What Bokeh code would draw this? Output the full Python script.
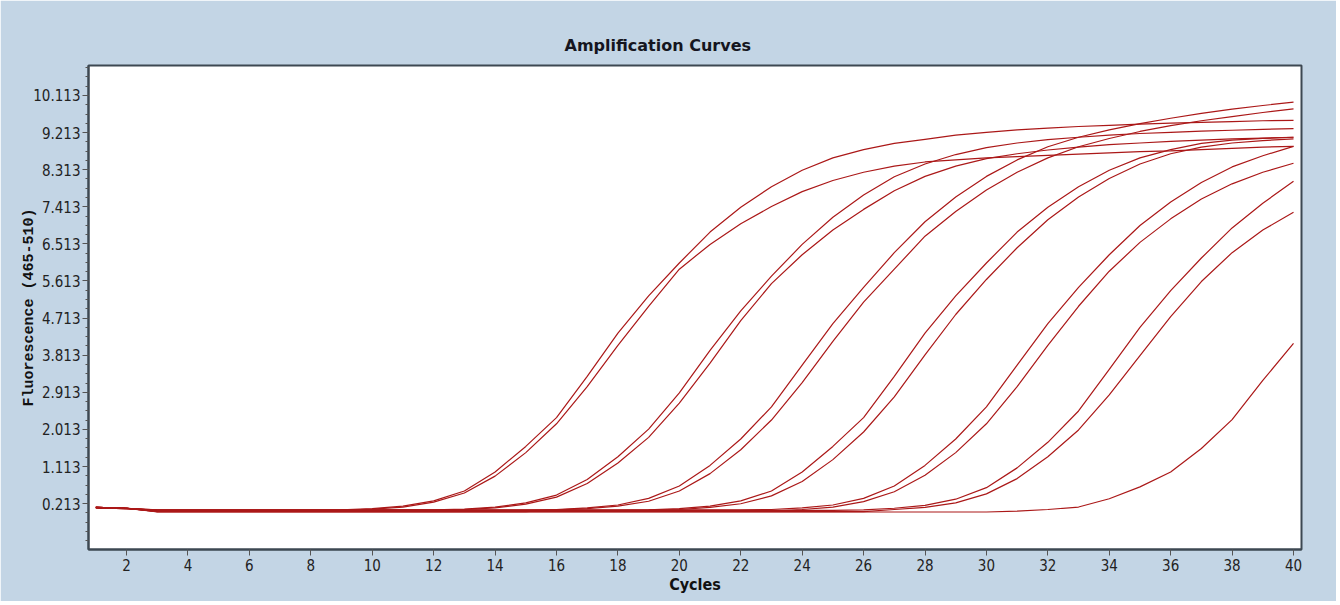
from bokeh.plotting import figure
from bokeh.models import FixedTicker, Range1d, PrintfTickFormatter
from bokeh.embed import file_html
from bokeh.resources import INLINE

cycles = [1, 2, 3, 4, 5, 6, 7, 8, 9, 10, 11, 12, 13, 14, 15, 16, 17, 18, 19, 20,
          21, 22, 23, 24, 25, 26, 27, 28, 29, 30, 31, 32, 33, 34, 35, 36, 37, 38, 39, 40]

curve_01 = [0.12, 0.10, 0.05, 0.05, 0.05, 0.05, 0.05, 0.05, 0.06, 0.09, 0.15, 0.28, 0.52, 0.98, 1.60, 2.30, 3.30, 4.35, 5.25, 6.05,
            6.80, 7.40, 7.90, 8.30, 8.60, 8.80, 8.95, 9.05, 9.15, 9.22, 9.28, 9.32, 9.36, 9.39, 9.42, 9.44, 9.46, 9.48, 9.50, 9.51]
curve_02 = [0.12, 0.10, 0.04, 0.04, 0.04, 0.04, 0.04, 0.04, 0.05, 0.08, 0.13, 0.25, 0.47, 0.88, 1.45, 2.15, 3.05, 4.05, 5.00, 5.90,
            6.50, 7.00, 7.42, 7.78, 8.05, 8.25, 8.40, 8.50, 8.55, 8.60, 8.63, 8.66, 8.69, 8.72, 8.75, 8.77, 8.80, 8.83, 8.86, 8.88]
curve_03 = [0.11, 0.09, 0.06, 0.06, 0.06, 0.06, 0.06, 0.06, 0.06, 0.06, 0.06, 0.06, 0.08, 0.13, 0.23, 0.42, 0.80, 1.35, 2.02, 2.90,
            3.93, 4.89, 5.73, 6.50, 7.16, 7.70, 8.14, 8.45, 8.68, 8.85, 8.96, 9.04, 9.10, 9.15, 9.19, 9.22, 9.25, 9.27, 9.29, 9.31]
curve_04 = [0.12, 0.10, 0.03, 0.03, 0.03, 0.03, 0.03, 0.03, 0.03, 0.03, 0.03, 0.03, 0.07, 0.11, 0.20, 0.37, 0.70, 1.20, 1.82, 2.65,
            3.62, 4.65, 5.55, 6.25, 6.85, 7.35, 7.80, 8.15, 8.40, 8.58, 8.70, 8.79, 8.86, 8.92, 8.96, 9.00, 9.03, 9.06, 9.08, 9.10]
curve_05 = [0.11, 0.09, 0.05, 0.05, 0.05, 0.05, 0.05, 0.05, 0.05, 0.05, 0.05, 0.05, 0.05, 0.05, 0.05, 0.07, 0.11, 0.18, 0.34, 0.64,
            1.14, 1.78, 2.56, 3.57, 4.58, 5.46, 6.30, 7.05, 7.65, 8.15, 8.55, 8.87, 9.10, 9.28, 9.43, 9.56, 9.68, 9.78, 9.87, 9.95]
curve_06 = [0.12, 0.10, 0.02, 0.02, 0.02, 0.02, 0.02, 0.02, 0.02, 0.02, 0.02, 0.02, 0.02, 0.02, 0.02, 0.06, 0.09, 0.15, 0.27, 0.52,
            0.94, 1.52, 2.24, 3.15, 4.15, 5.10, 5.90, 6.70, 7.30, 7.82, 8.25, 8.60, 8.87, 9.07, 9.24, 9.38, 9.50, 9.60, 9.70, 9.79]
curve_07 = [0.11, 0.09, 0.05, 0.05, 0.05, 0.05, 0.05, 0.05, 0.05, 0.05, 0.05, 0.05, 0.05, 0.05, 0.05, 0.05, 0.05, 0.05, 0.06, 0.09,
            0.15, 0.28, 0.52, 0.98, 1.60, 2.30, 3.30, 4.35, 5.25, 6.05, 6.80, 7.40, 7.90, 8.30, 8.60, 8.80, 8.95, 9.03, 9.07, 9.10]
curve_08 = [0.12, 0.10, 0.04, 0.04, 0.04, 0.04, 0.04, 0.04, 0.04, 0.04, 0.04, 0.04, 0.04, 0.04, 0.04, 0.04, 0.04, 0.04, 0.05, 0.07,
            0.12, 0.21, 0.40, 0.75, 1.28, 1.95, 2.80, 3.82, 4.80, 5.65, 6.42, 7.10, 7.65, 8.10, 8.45, 8.70, 8.86, 8.96, 9.02, 9.06]
curve_09 = [0.12, 0.10, 0.06, 0.06, 0.06, 0.06, 0.06, 0.06, 0.06, 0.06, 0.06, 0.06, 0.06, 0.06, 0.06, 0.06, 0.06, 0.06, 0.06, 0.06,
            0.06, 0.06, 0.07, 0.11, 0.18, 0.34, 0.64, 1.14, 1.78, 2.56, 3.57, 4.58, 5.46, 6.25, 6.96, 7.53, 8.00, 8.38, 8.65, 8.88]
curve_10 = [0.11, 0.09, 0.03, 0.03, 0.03, 0.03, 0.03, 0.03, 0.03, 0.03, 0.03, 0.03, 0.03, 0.03, 0.03, 0.03, 0.03, 0.03, 0.03, 0.03,
            0.03, 0.03, 0.03, 0.07, 0.13, 0.26, 0.50, 0.90, 1.45, 2.15, 3.05, 4.05, 5.00, 5.85, 6.55, 7.12, 7.60, 7.97, 8.25, 8.47]
curve_11 = [0.12, 0.10, 0.05, 0.05, 0.05, 0.05, 0.05, 0.05, 0.05, 0.05, 0.05, 0.05, 0.05, 0.05, 0.05, 0.05, 0.05, 0.05, 0.05, 0.05,
            0.05, 0.05, 0.05, 0.05, 0.05, 0.06, 0.10, 0.17, 0.32, 0.60, 1.08, 1.70, 2.46, 3.47, 4.49, 5.38, 6.17, 6.90, 7.50, 8.03]
curve_12 = [0.12, 0.10, 0.02, 0.02, 0.02, 0.02, 0.02, 0.02, 0.02, 0.02, 0.02, 0.02, 0.02, 0.02, 0.02, 0.02, 0.02, 0.02, 0.02, 0.02,
            0.02, 0.02, 0.02, 0.02, 0.02, 0.02, 0.07, 0.12, 0.23, 0.45, 0.82, 1.35, 2.00, 2.85, 3.80, 4.75, 5.60, 6.30, 6.85, 7.28]
curve_13 = [0.12, 0.10, 0.01, 0.01, 0.01, 0.01, 0.01, 0.01, 0.01, 0.01, 0.01, 0.01, 0.01, 0.01, 0.01, 0.01, 0.01, 0.01, 0.01, 0.01,
            0.01, 0.01, 0.01, 0.01, 0.01, 0.01, 0.01, 0.01, 0.01, 0.01, 0.03, 0.07, 0.13, 0.33, 0.62, 0.98, 1.55, 2.25, 3.20, 4.10]

curves = [curve_01, curve_02, curve_03, curve_04, curve_05, curve_06, curve_07,
          curve_08, curve_09, curve_10, curve_11, curve_12, curve_13]

y_ticks = [0.213, 1.113, 2.013, 2.913, 3.813, 4.713, 5.613, 6.513, 7.413, 8.313, 9.213, 10.113]
x_ticks = [2, 4, 6, 8, 10, 12, 14, 16, 18, 20, 22, 24, 26, 28, 30, 32, 34, 36, 38, 40]

title_text = "Amplification Curves"
x_label = "Cycles"
y_label = "Fluorescence (465-510)"

# minor ticks: 3 between each pair of labelled ticks
step = (y_ticks[1] - y_ticks[0]) / 4.0
y_minor = []
v = y_ticks[0] - 4 * step
while v < y_ticks[-1] + 4 * step:
    y_minor.append(round(v, 4))
    v += step

p = figure(width=1336, height=601,
           x_range=Range1d(0.76, 40.26), y_range=Range1d(-0.90, 10.84),
           output_backend="svg", toolbar_location=None,
           min_border_left=88, min_border_right=35, min_border_top=65, min_border_bottom=52,
           background_fill_color="white", border_fill_color="#c3d5e5",
           outline_line_color="#3d4852", outline_line_width=2)

p.grid.visible = False

p.title.text = title_text
p.title.align = "left"
p.title.offset = 476
p.title.text_font = "DejaVu Sans"
p.title.text_font_style = "bold"
p.title.text_font_size = "16px"
p.title.text_color = "#151520"
p.title.standoff = 22

for vals in curves:
    p.line(cycles, vals, line_color="#ab1818", line_width=1.2)

narrow = "'Liberation Sans Narrow', 'DejaVu Sans Condensed', 'Roboto Condensed', 'Liberation Sans', sans-serif"

p.yaxis.ticker = FixedTicker(ticks=y_ticks, minor_ticks=y_minor)
p.yaxis.formatter = PrintfTickFormatter(format="%.3f")
p.yaxis.major_label_text_font = narrow
p.yaxis.major_label_text_font_size = "15px"
p.yaxis.major_label_text_color = "#222222"
p.yaxis.major_label_standoff = 2
p.yaxis.major_tick_in = 0
p.yaxis.major_tick_out = 6
p.yaxis.minor_tick_in = 0
p.yaxis.minor_tick_out = 3
p.yaxis.axis_label = y_label
p.yaxis.axis_label_text_font = "Liberation Mono"
p.yaxis.axis_label_text_font_style = "bold"
p.yaxis.axis_label_text_font_size = "15px"
p.yaxis.axis_label_text_color = "#111111"
p.yaxis.axis_label_standoff = -8

p.xaxis.ticker = FixedTicker(ticks=x_ticks, minor_ticks=[])
p.xaxis.major_label_text_font = narrow
p.xaxis.major_label_text_font_size = "15px"
p.xaxis.major_label_text_color = "#222222"
p.xaxis.major_label_standoff = 3
p.xaxis.major_tick_in = 0
p.xaxis.major_tick_out = 6
p.xaxis.axis_label = x_label
p.xaxis.axis_label_text_font = narrow
p.xaxis.axis_label_text_font_style = "bold"
p.xaxis.axis_label_text_font_size = "16px"
p.xaxis.axis_label_text_color = "#111111"
p.xaxis.axis_label_standoff = 1

for ax in (p.xaxis, p.yaxis):
    ax.axis_line_color = "#3d4852"
    ax.axis_line_width = 2
    ax.major_tick_line_color = "#555555"
    ax.minor_tick_line_color = "#555555"

open("out.html", "w").write(file_html(p, INLINE))
